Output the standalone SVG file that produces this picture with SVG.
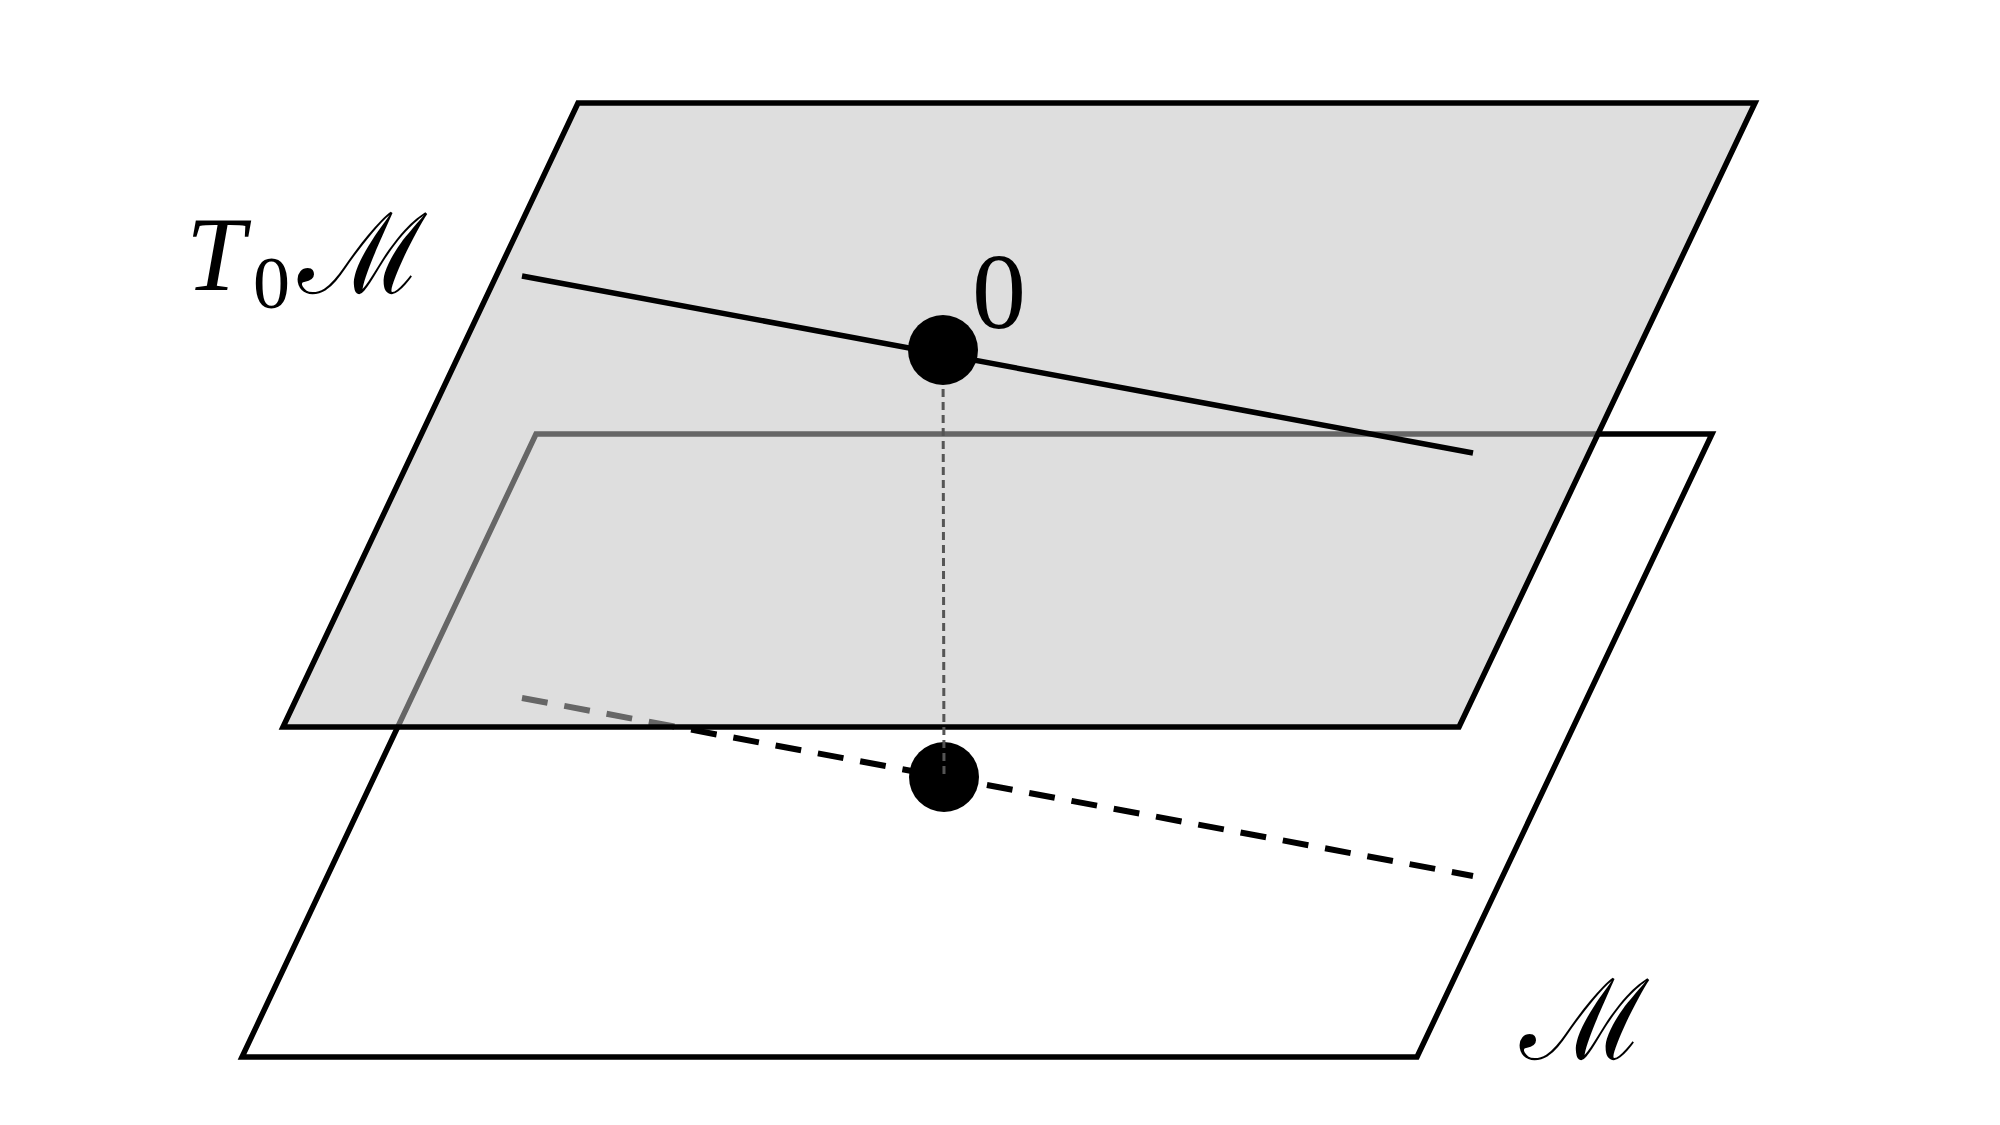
<svg xmlns="http://www.w3.org/2000/svg" width="2000" height="1125" viewBox="0 0 2000 1125">
<style>
.edge{fill:none;stroke:#000;stroke-width:5.5;stroke-linejoin:miter}
.lbl{font-family:"Liberation Serif","DejaVu Serif",serif;fill:#000}
</style>
<rect width="2000" height="1125" fill="#fff"/>
<g id="plane-M">
<polygon class="edge" points="536,434 1712,434 1417,1057 242,1057"/>
</g>
<g id="connectors">
<line x1="522" y1="698" x2="1473" y2="876" stroke="#000" stroke-width="6" stroke-dasharray="26,17"/>
</g>
<g id="point-M">
<circle cx="944" cy="777" r="35" fill="#000"/>
</g>
<g id="plane-T0M">
<polygon points="578,103 1755,103 1459,727 283,727" fill="#c1c1c1" fill-opacity="0.53" stroke="#000" stroke-width="5.5"/>
</g>
<g id="connectors-top">
<line x1="943" y1="350" x2="944" y2="777" stroke="#555" stroke-width="3" stroke-dasharray="8,5"/>
<line x1="522" y1="276" x2="1473" y2="453" stroke="#000" stroke-width="5.5"/>
</g>
<g id="point-0">
<circle cx="943" cy="350" r="35" fill="#000"/>
</g>
<g id="labels">
<text class="lbl" x="186" y="290" font-size="106" font-style="italic">T</text>
<text class="lbl" x="253" y="308" font-size="74">0</text>
<text class="lbl" x="298" y="293" font-size="112" font-family="DejaVu Serif">ℳ</text>
<text class="lbl" x="972" y="328" font-size="108">0</text>
<text class="lbl" x="1520" y="1059" font-size="112" font-family="DejaVu Serif">ℳ</text>
</g>
</svg>
